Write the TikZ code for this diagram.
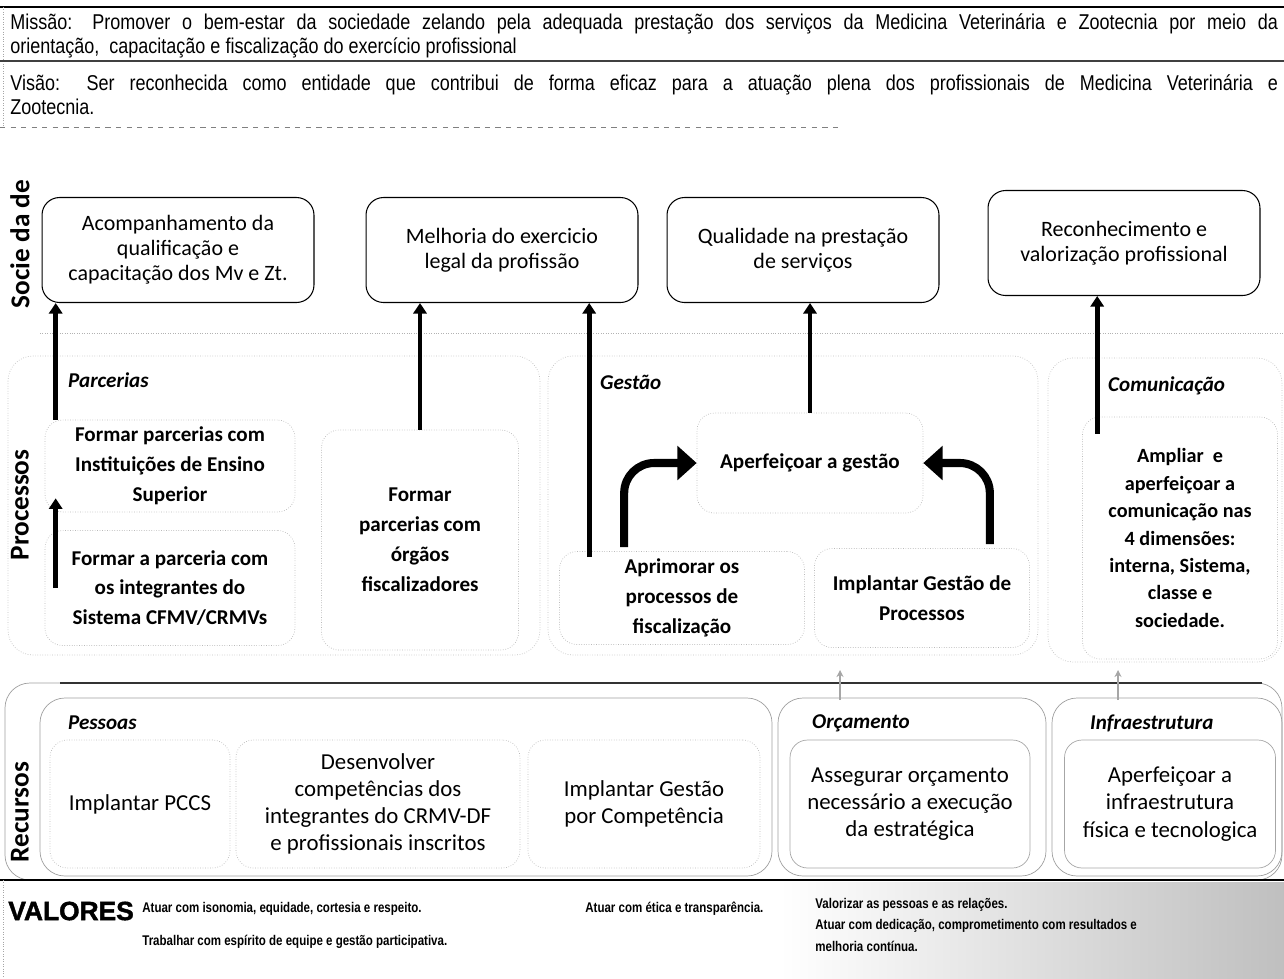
\documentclass[tikz,border=0pt]{standalone}
\usepackage{fontspec}
\setmainfont{Carlito}
\newfontfamily\arialfont{Liberation Sans}
\newfontfamily\blackfont[FakeBold=1.6]{Liberation Sans}
\newfontfamily\headfont[FakeStretch=0.84]{Liberation Sans}
\newfontfamily\narrowfont[FakeStretch=0.82]{Liberation Sans}
\usetikzlibrary{arrows.meta,positioning,calc}

\tikzset{
  socbox/.style={draw, line width=0.6pt, rounded corners=0.35cm, minimum width=5.44cm,
    minimum height=2.1cm, align=center, font=\fontsize{12.5}{14.2}\selectfont},
  procbox/.style={draw=gray!55, densely dotted, rounded corners=0.35cm, align=center,
    font=\bfseries\fontsize{12}{17}\selectfont},
  pesbox/.style={draw=gray!55, densely dotted, rounded corners=0.35cm, align=center,
    minimum height=2.56cm, font=\fontsize{13}{15.5}\selectfont},
  recbox/.style={pesbox, draw=gray!70, solid},
  grpframe/.style={draw=gray!50, densely dotted, rounded corners=0.5cm},
  recframe/.style={draw=gray!75, rounded corners=0.5cm},
  grplabel/.style={anchor=west, font=\bfseries\itshape\fontsize{12}{14}\selectfont},
  rowlabel/.style={rotate=90, font=\bfseries\fontsize{15.5}{17}\selectfont},
  headtext/.style={anchor=north west, inner sep=0pt, text width=25.36cm, align=justify,
    font=\headfont\fontsize{12.2}{13.6}\selectfont},
  valtext/.style={anchor=west, inner sep=0pt, font=\narrowfont\bfseries\fontsize{8}{9}\selectfont},
  uparrow/.style={line width=2.8pt, -{Triangle[length=6pt,width=7.5pt]}},
  bendarrow/.style={line width=4.6pt, rounded corners=0.6cm, -{Triangle[length=11pt,width=19pt]}},
  tinyarrow/.style={gray!70, line width=0.8pt, -{Stealth[length=4pt,width=4pt]}}
}

\begin{document}
\begin{tikzpicture}[x=0.02cm, y=-0.02cm]
\useasboundingbox (0,0) rectangle (1284,978);

% missao e visao
\draw[line width=0.8pt] (0,7) -- (1284,7);
\draw[gray!70, densely dotted] (3,7) -- (3,127);
\node[headtext] (missao) at (10,13) {Missão: Promover o bem-estar da sociedade zelando pela adequada prestação dos serviços da Medicina Veterinária e Zootecnia por meio da\linebreak orientação, \ capacitação e fiscalização do exercício profissional};
\draw[black!75, line width=0.6pt] (0,61) -- (1284,61);
\node[headtext] (visao) at (10,74) {Visão: Ser reconhecida como entidade que contribui de forma eficaz para a atuação plena dos profissionais de Medicina Veterinária e\linebreak Zootecnia.};
\draw[gray, dashed] (0,127) -- (840,127);

% sociedade
\node[rowlabel] (lblsoc) at (20,244) {Socie da de};
\node[socbox] (obj1) at (178,250) {Acompanhamento da\\qualificação e\\capacitação dos Mv e Zt.};
\node[socbox] (obj2) at (502,250) {Melhoria do exercicio\\legal da profissão};
\node[socbox] (obj3) at (803,250) {Qualidade na prestação\\de serviços};
\node[socbox] (obj4) at (1124,243) {Reconhecimento e\\valorização profissional};

\draw[gray!60, densely dotted] (40,333) -- (1284,333);

% processos
\node[rowlabel] (lblproc) at (20,505) {Processos};
\draw[grpframe] (8,356) rectangle (540,655);
\draw[grpframe] (548,356) rectangle (1038,655);
\draw[grpframe] (1048,358) rectangle (1282,662);
\node[grplabel] (parc) at (62,380) {Parcerias};
\node[grplabel] (gest) at (594,382) {Gestão};
\node[grplabel] (comu) at (1102,386) {Comunicação};

\node[procbox, minimum width=5cm, minimum height=1.84cm] (pies) at (170,466) {Formar parcerias com\\Instituições de Ensino\\Superior};
\node[procbox, minimum width=5cm, minimum height=2.3cm] (psis) at (170,588) {Formar a parceria com\\os integrantes do\\Sistema CFMV/CRMVs};
\node[procbox, minimum width=3.94cm, minimum height=4.4cm] (porg) at (420,540) {Formar\\parcerias com\\órgãos\\fiscalizadores};
\node[procbox, minimum width=4.52cm, minimum height=2cm] (gaper) at (810,463) {Aperfeiçoar a gestão};
\node[procbox, minimum width=4.9cm, minimum height=1.86cm] (gfisc) at (682,598) {Aprimorar os\\processos de\\fiscalização};
\node[procbox, minimum width=4.3cm, minimum height=1.98cm] (gproc) at (922,598) {Implantar Gestão de\\Processos};
\node[procbox, minimum width=3.9cm, minimum height=4.84cm,
  font=\bfseries\fontsize{11.5}{15.6}\selectfont] (camp) at (1180,538)
  {Ampliar \ e\\aperfeiçoar a\\comunicação nas\\4 dimensões:\\interna, Sistema,\\classe e\\sociedade.};

% setas para a sociedade
\coordinate (s1) at ($(pies.north west)+(11,0)$);
\coordinate (s2) at ($(psis.west)+(11,0)$);
\coordinate (s3) at ($(gfisc.north west)+(30,6)$);
\coordinate (s4) at ($(camp.north west)+(15,17)$);
\draw[uparrow] (s1) -- (s1 |- obj1.south);
\draw[uparrow] (s2) -- ($(pies.south west)+(11,-14)$);
\draw[uparrow] (porg.north) -- (porg.north |- obj2.south);
\draw[uparrow] (s3) -- (s3 |- obj2.south);
\draw[uparrow] (gaper.north) -- (gaper.north |- obj3.south);
\draw[uparrow] (s4) -- (s4 |- obj4.south);

\draw[bendarrow] ($(gfisc.north west)+(65,-4)$) |- (gaper.west);
\draw[bendarrow] ($(gproc.north east)+(-40,-4)$) |- (gaper.east);

% recursos
\draw[recframe] (5,683) rectangle (1282,880);
\draw[black!80, line width=0.9pt] (60,683) -- (1262,683);
\node[rowlabel] (lblrec) at (20,812) {Recursos};
\draw[recframe] (40,698) rectangle (772,876);
\draw[recframe] (778,698) rectangle (1046,876);
\draw[recframe] (1052,698) rectangle (1282,876);
\node[grplabel] (pess) at (62,723) {Pessoas};
\node[grplabel] (orca) at (806,723) {Orçamento};
\node[grplabel] (infr) at (1084,723) {Infraestrutura};

\node[pesbox, minimum width=3.6cm] (rpccs) at (140,804) {Implantar PCCS};
\node[pesbox, minimum width=5.68cm] (rcomp) at (378,804) {Desenvolver\\competências dos\\integrantes do CRMV-DF\\e profissionais inscritos};
\node[pesbox, minimum width=4.64cm] (rgcomp) at (644,804) {Implantar Gestão\\por Competência};
\node[recbox, minimum width=4.8cm] (rorc) at (910,804) {Assegurar orçamento\\necessário a execução\\da estratégica};
\node[recbox, minimum width=4.22cm] (rinfra) at (1170,804) {Aperfeiçoar a\\infraestrutura\\física e tecnologica};

\coordinate (t1) at (840,700);
\coordinate (t2) at (1118,700);
\draw[tinyarrow] (t1) -- ++(0,-30);
\draw[tinyarrow] (t2) -- ++(0,-30);

% valores
\shade[left color=white, right color=gray!50] (780,882) rectangle (1284,978);
\draw[line width=0.8pt] (0,880) -- (1284,880);
\draw[gray!70, densely dotted] (3,880) -- (3,978);
\node[anchor=west, inner sep=0pt, font=\blackfont\bfseries\fontsize{15}{17}\selectfont] (valores) at (8,911) {VALORES};
\node[valtext] (v1) at (142,909) {Atuar com isonomia, equidade, cortesia e respeito.};
\node[valtext] (v2) at (585,909) {Atuar com ética e transparência.};
\node[valtext] (v3) at (815,905) {Valorizar as pessoas e as relações.};
\node[valtext] (v4) at (815,926) {Atuar com dedicação, comprometimento com resultados e};
\node[valtext] (v5) at (815,946) {melhoria contínua.};
\node[valtext] (v6) at (142,942) {Trabalhar com espírito de equipe e gestão participativa.};
\end{tikzpicture}
\end{document}
